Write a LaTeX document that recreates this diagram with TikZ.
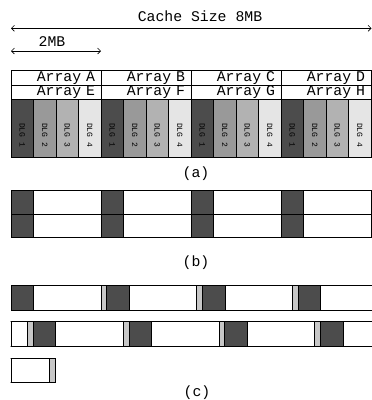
\documentclass[tikz,border=0pt]{standalone}
\usepackage{fontspec}
\setmonofont{Liberation Mono}
\usetikzlibrary{arrows.meta, calc}

\definecolor{dlgone}{gray}{0.30}
\definecolor{dlgtwo}{gray}{0.60}
\definecolor{dlgthree}{gray}{0.70}
\definecolor{dlgfour}{gray}{0.90}
\definecolor{padgray}{gray}{0.78}

\begin{document}
\begin{tikzpicture}[x=1pt,y=-1pt,line width=0.9pt,
  sizearrow/.style={{Straight Barb[length=3pt,width=6pt]}-{Straight Barb[length=3pt,width=6pt]},line width=0.6pt},
  title/.style={font=\ttfamily\fontsize{14.8}{15}\selectfont,inner sep=0pt},
  slot/.style={draw,minimum width=90pt,minimum height=14.3pt,inner sep=0pt,text width=78pt,align=right,font=\ttfamily\fontsize{14.8}{15}\selectfont},
  dlg/.style={draw,minimum width=22.5pt,minimum height=57.7pt,inner sep=0pt},
  dlgtxt/.style={rotate=-90,font=\ttfamily\fontsize{8}{8}\selectfont,inner sep=0pt}
]
  \useasboundingbox (0,0) rectangle (372,400);

  % sizes
  \node[title] (total) at (200,16) {Cache Size 8MB};
  \coordinate (tl) at (11,28.3); \coordinate (tr) at (371.5,28.3);
  \draw[sizearrow] (tl) -- (tr);
  \node[title] (part) at (52,42) {2MB};
  \coordinate (pl) at (11,51); \coordinate (pr) at (101,51);
  \draw[sizearrow] (pl) -- (pr);

  % (a) arrays and DLGs
  \foreach \a/\b [count=\i from 0] in {A/E,B/F,C/G,D/H}{
    \node[slot] (row\a) at (56+90*\i,77.85) {Array \a};
    \node[slot] (row\b) at (56+90*\i,92.15) {Array \b};
    \foreach \c [count=\j] in {dlgone,dlgtwo,dlgthree,dlgfour}{
      \node[dlg,fill=\c] (dlg\i\j) at (11+90*\i+22.5*\j-11.25,128.15) {};
      \node[dlgtxt] (lab\i\j) at ($(dlg\i\j)+(0,7)$) {DLG \j};
    }
  }
  \node[title] (capa) at (196,174) {(a)};

  % (b)
  \foreach \i in {0,...,3}{
    \foreach \y in {190.7,214.2}{
      \draw[fill=dlgone] (11+90*\i,\y) rectangle ++(22.5,23.5);
      \draw (33.5+90*\i,\y) rectangle ++(67.5,23.5);
    }
  }
  \node[title] (capb) at (196,263) {(b)};

  % (c) padded stream
  \foreach \r/\y in {0/285.7,1/321.7,2/358.3}{
    \begin{scope}
      \clip (10.6,\y-1) rectangle (372,\y+25.3);
      \foreach \k in {0,...,7}{
        \draw[fill=dlgone] (11+95.8*\k-361*\r,\y) rectangle ++(22.5,24.3);
        \draw (33.5+95.8*\k-361*\r,\y) rectangle ++(67.5,24.3);
        \draw[fill=padgray] (101+95.8*\k-361*\r,\y) rectangle ++(5.8,24.3);
      }
    \end{scope}
    \draw (11,\y) -- ++(0,24.3);
  }
  \node[title] (capc) at (197,392.5) {(c)};
\end{tikzpicture}
\end{document}
